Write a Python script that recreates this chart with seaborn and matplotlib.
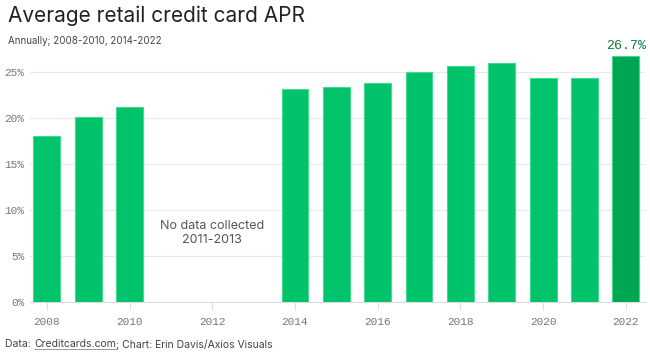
import matplotlib
matplotlib.use("Agg")
import matplotlib.pyplot as plt
import seaborn as sns
import pandas as pd
from matplotlib.lines import Line2D

years = [2008, 2009, 2010, 2014, 2015, 2016, 2017, 2018, 2019, 2020, 2021, 2022]
apr = [18.1, 20.1, 21.2, 23.2, 23.4, 23.8, 25.0, 25.7, 26.0, 24.4, 24.3, 26.7]
highlight = ["base"] * 11 + ["latest"]
y_ticks = [0, 5, 10, 15, 20, 25]
x_ticks = [2008, 2010, 2012, 2014, 2016, 2018, 2020, 2022]

df = pd.DataFrame({"year": years, "apr": apr, "group": highlight})

sns.set_theme(style="white")
plt.rcParams["font.family"] = ["Inter", "DejaVu Sans"]

fig = plt.figure(figsize=(6.5, 3.55), dpi=100)
ax = fig.add_axes([0.046, 0.149, 0.946, 0.713])

sns.barplot(data=df, x="year", y="apr", hue="group", native_scale=True,
            palette={"base": "#00c36b", "latest": "#00a651"}, saturation=1,
            width=0.65, edgecolor="#45d88f", linewidth=0.8,
            legend=False, ax=ax, zorder=3)

ax.set_xlim(2007.59, 2022.46)
ax.set_ylim(0, 27.5)
ax.set_yticks(y_ticks)
ax.set_yticklabels([f"{t}%" for t in y_ticks])
ax.set_xticks(x_ticks)
ax.set_xticklabels([str(t) for t in x_ticks])
ax.set_xlabel("")
ax.set_ylabel("")

ax.grid(axis="y", color="#e8e8e8", linewidth=0.8, zorder=0)
for s in ["top", "right", "left"]:
    ax.spines[s].set_visible(False)
ax.spines["bottom"].set_color("#dddddd")
ax.spines["bottom"].set_linewidth(0.8)

mono = "Liberation Mono"
ax.tick_params(axis="y", length=0, pad=4, labelsize=8, labelcolor="#777777")
ax.tick_params(axis="x", length=6, width=0.8, color="#dddddd", pad=5,
               labelsize=8, labelcolor="#777777", bottom=True)
for lab in ax.get_yticklabels() + ax.get_xticklabels():
    lab.set_family(mono)

ax.text(2012, 7.5, "No data collected\n2011-2013", ha="center", va="center",
        fontsize=9, color="#555555", linespacing=1.2)

ax.text(years[-1], apr[-1] + 0.5, f"{apr[-1]}%", ha="center", va="bottom",
        fontsize=9.5, color="#0b7a3a", family=mono)

fig.text(0.012, 0.955, "Average retail credit card APR", fontsize=15,
         color="#222222", ha="left", va="center")
fig.text(0.012, 0.885, "Annually; 2008-2010, 2014-2022", fontsize=7,
         color="#444444", ha="left", va="center")

# footer with underlined source
fig.canvas.draw()
r = fig.canvas.get_renderer()
t1 = fig.text(0.008, 0.03, "Data: ", fontsize=7.5, color="#444444", ha="left", va="center")
bb1 = t1.get_window_extent(r)
x2 = bb1.x1 / fig.bbox.width
t2 = fig.text(x2, 0.03, "Creditcards.com", fontsize=7.5, color="#444444", ha="left", va="center")
bb2 = t2.get_window_extent(r)
x3 = bb2.x1 / fig.bbox.width
fig.text(x3, 0.03, "; Chart: Erin Davis/Axios Visuals", fontsize=7.5, color="#444444",
         ha="left", va="center")
yline = (bb2.y0 + 0.5) / fig.bbox.height
fig.add_artist(Line2D([bb2.x0 / fig.bbox.width, bb2.x1 / fig.bbox.width], [yline, yline],
                      color="#888888", linewidth=0.6, transform=fig.transFigure))

fig.savefig("out.png", dpi=100)
